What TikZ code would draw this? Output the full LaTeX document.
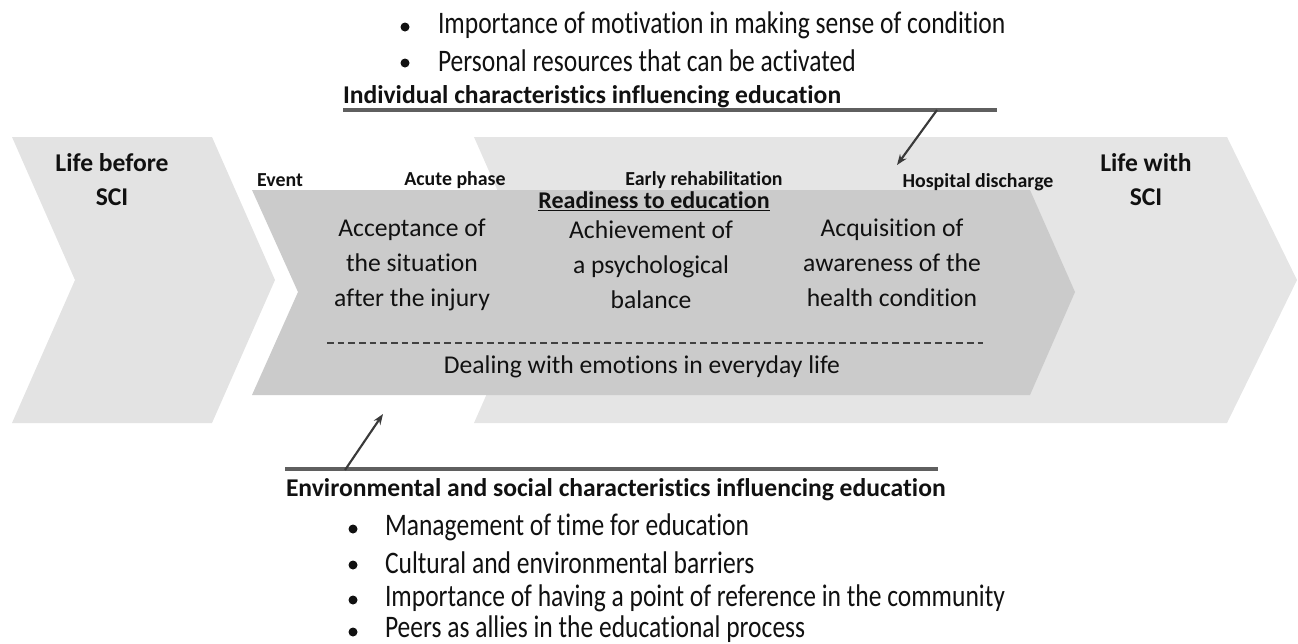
\documentclass[tikz,border=0pt]{standalone}
\usepackage{fontspec}
\setmainfont{Carlito}[Ligatures=NoCommon]
\usetikzlibrary{arrows.meta}
\definecolor{chevL}{HTML}{E3E3E3}
\definecolor{chevR}{HTML}{E5E5E5}
\definecolor{chevD}{HTML}{CBCBCB}
\definecolor{linegray}{HTML}{5F5F5F}
\definecolor{arrowgray}{HTML}{3A3A3A}
\definecolor{txt}{HTML}{111111}
\newcommand{\narrow}[1]{\scalebox{0.815}[1]{#1}}
\begin{document}
\begin{tikzpicture}[x=0.75pt,y=-0.75pt,
  every node/.style={inner sep=0pt, outer sep=0pt, text=txt},
  bullettext/.style={anchor=west, font=\fontsize{23.5}{26}\selectfont},
  heading/.style={anchor=west, font=\fontsize{19.2}{23}\selectfont\bfseries},
  phase/.style={font=\fontsize{14.9}{18}\selectfont\bfseries},
  colbox/.style={align=center, font=\fontsize{19.2}{26.3}\selectfont},
  lifebox/.style={align=center, font=\fontsize{19.2}{25.5}\selectfont\bfseries},
  sepline/.style={linegray, line width=2.4pt},
  pointer/.style={arrowgray, line width=1.6pt, -{Stealth[length=8pt,width=6pt]}},
  dot/.style={fill=txt}
]
\useasboundingbox (0,0) rectangle (1298,643);

% chevrons
\fill[chevR] (474,137) -- (1227,137) -- (1297,280) -- (1227,423) -- (474,423) -- (537,280) -- cycle;
\fill[chevL] (12,137) -- (212,137) -- (275,280) -- (212,423) -- (12,423) -- (75,280) -- cycle;
\fill[chevD] (252,190) -- (1030,190) -- (1075,292) -- (1030,395) -- (252,395) -- (298,292) -- cycle;

% top bullets
\fill[dot] (405,27) circle (4.5);
\node[bullettext] (t1) at (438,25) {\narrow{Importance of motivation in making sense of condition}};
\fill[dot] (405,63) circle (4.5);
\node[bullettext] (t2) at (438,61) {\narrow{Personal resources that can be activated}};
\node[heading] (indiv) at (343,98) {\underline{Individual characteristics influencing education}};
\draw[sepline] (343,110) -- (997,110);
\coordinate (topstart) at (937,110);
\coordinate (toptip) at (897,165);
\draw[pointer] (topstart) -- (toptip);

% phase labels
\node[phase] (event) at (280,180) {Event};
\node[phase] (acute) at (455,180) {Acute phase};
\node[phase] (early) at (704,180) {Early rehabilitation};
\node[phase] (disch) at (978,182) {Hospital discharge};

\node[font=\fontsize{18}{20}\selectfont\bfseries] (ready) at (654,201) {\underline{Readiness to education}};

\node[colbox] (c1) at (412,265) {Acceptance of\\the situation\\after the injury};
\node[colbox] (c2) at (651,265) {Achievement of\\a psychological\\balance};
\node[colbox] (c3) at (892,263) {Acquisition of\\awareness of the\\health condition};

\draw[txt!80, line width=0.8pt, dash pattern=on 5pt off 3pt] (327,343) -- (983,343);
\node[colbox] (deal) at (642,367) {Dealing with emotions in everyday life};

\node[lifebox] (before) at (112,180) {Life before\\SCI};
\node[lifebox] (with) at (1146,180) {Life with\\SCI};

% bottom
\draw[sepline] (285,469) -- (938,469);
\coordinate (botstart) at (345,470);
\coordinate (bottip) at (383,414);
\draw[pointer] (botstart) -- (bottip);
\node[heading] (env) at (286,490) {Environmental and social characteristics influencing education};
\fill[dot] (353,529) circle (4.5);
\node[bullettext] (b1) at (385,527) {\narrow{Management of time for education}};
\fill[dot] (353,565) circle (4.5);
\node[bullettext] (b2) at (385,563) {\narrow{Cultural and environmental barriers}};
\fill[dot] (353,600) circle (4.5);
\node[bullettext] (b3) at (385,598) {\narrow{Importance of having a point of reference in the community}};
\fill[dot] (353,632) circle (4.5);
\node[bullettext] (b4) at (385,629) {\narrow{Peers as allies in the educational process}};
\end{tikzpicture}
\end{document}
